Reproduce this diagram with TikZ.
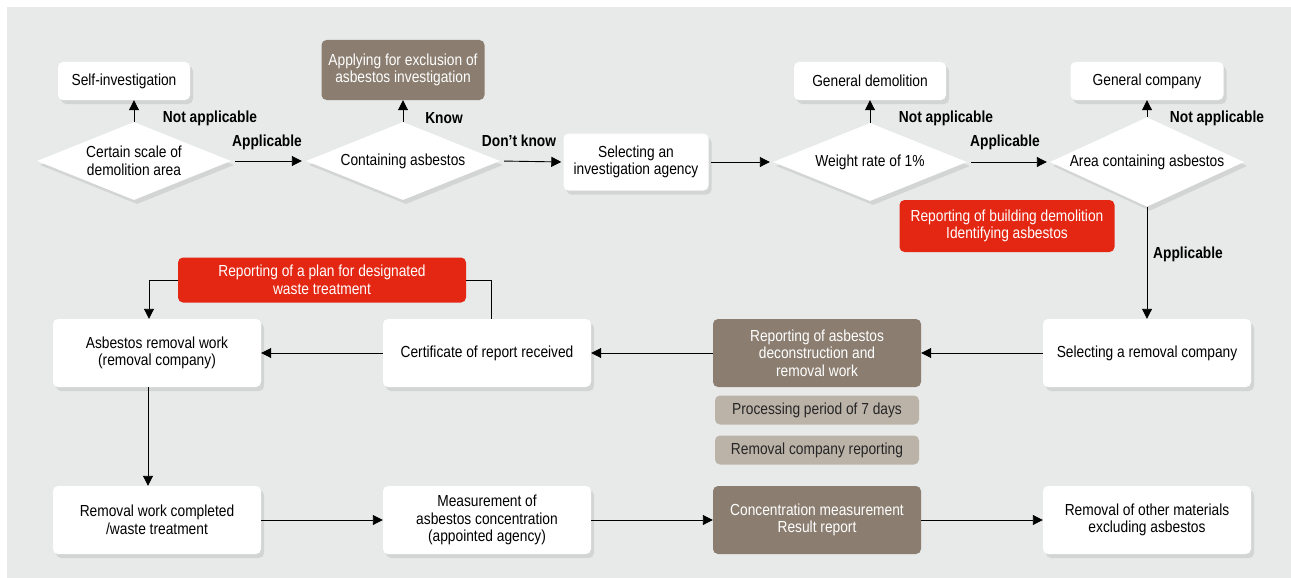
\documentclass[tikz,border=0pt]{standalone}
\usepackage{fontspec}
\setmainfont{Liberation Sans}[FakeStretch=0.86]
\usetikzlibrary{arrows.meta, shapes.geometric, shadows}
\definecolor{xbg}{HTML}{E8E9E9}
\definecolor{xbrown}{HTML}{8B7E70}
\definecolor{xtaupe}{HTML}{BBB2A8}
\definecolor{xred}{HTML}{E42713}
\tikzset{
  base/.style = {rounded corners=5pt, align=center, inner sep=2pt, font=\fontsize{16}{17.5}\selectfont},
  softshadow/.style = {drop shadow={opacity=0.2, shadow xshift=3pt, shadow yshift=-4pt}},
  whitebox/.style = {base, fill=white, softshadow},
  brownbox/.style = {base, fill=xbrown, text=white},
  taupebox/.style = {base, fill=xtaupe, text=black!85, minimum width=204pt, minimum height=29pt},
  redbox/.style = {base, fill=xred, text=white},
  wide/.style = {minimum width=208pt, minimum height=68pt},
  decision/.style = {diamond, fill=white, softshadow, minimum width=194pt, minimum height=78pt, inner xsep=-40pt, inner ysep=0pt, align=center, font=\fontsize{16}{17.5}\selectfont},
  lbl/.style = {font=\bfseries\fontsize{16}{17.5}\selectfont},
  arr/.style = {-{Triangle[length=10pt, width=10pt]}, line width=0.9pt},
}

\begin{document}
\begin{tikzpicture}[x=1pt, y=-1pt]
  \useasboundingbox (0,0) rectangle (1291,578);
  \fill[xbg] (7,7) rectangle (1291,578);

  % top row
  \node[whitebox, minimum width=132pt, minimum height=38pt] (selfinv) at (124,81) {Self-investigation};
  \node[brownbox, minimum width=163pt, minimum height=60pt] (exclusion) at (403,70) {Applying for exclusion of\\asbestos investigation};
  \node[whitebox, minimum width=152pt, minimum height=38pt] (gendemo) at (870,81) {General demolition};
  \node[whitebox, minimum width=153pt, minimum height=38pt] (gencomp) at (1147,81) {General company};

  \node[decision] (scale) at (134,161) {Certain scale of\\demolition area};
  \node[decision] (contain) at (403,161) {Containing asbestos};
  \node[whitebox, minimum width=145pt, minimum height=57pt] (agency) at (636,162) {Selecting an\\investigation agency};
  \node[decision] (weight) at (870,162) {Weight rate of 1\%};
  \node[decision] (area) at (1147,162) {Area containing asbestos};
  \node[redbox, minimum width=215pt, minimum height=52pt] (demoreport) at (1007,226) {Reporting of building demolition\\Identifying asbestos};

  % middle row
  \node[whitebox, wide] (selremoval) at (1147,353) {Selecting a removal company};
  \node[brownbox, wide] (asbreport) at (817,353) {Reporting of asbestos\\deconstruction and\\removal work};
  \node[taupebox] (period) at (817,410) {Processing period of 7 days};
  \node[taupebox] (compreport) at (817,450) {Removal company reporting};
  \node[whitebox, wide] (certificate) at (487,353) {Certificate of report received};
  \node[whitebox, wide] (removal) at (157,353) {Asbestos removal work\\(removal company)};
  \node[redbox, minimum width=288pt, minimum height=45pt] (plan) at (322,280) {Reporting of a plan for designated\\waste treatment};

  % bottom row
  \node[whitebox, wide] (completed) at (157,520) {Removal work completed\\/waste treatment};
  \node[whitebox, wide] (measure) at (487,520) {Measurement of\\asbestos concentration\\(appointed agency)};
  \node[brownbox, wide] (concresult) at (817,520) {Concentration measurement\\Result report};
  \node[whitebox, wide] (others) at (1147,520) {Removal of other materials\\excluding asbestos};

  % connectors
  \draw[arr] (scale.north) -- (scale.north |- selfinv.south);
  \draw[arr, shorten <=4pt, shorten >=4pt] (scale.east) -- (contain.west);
  \draw[arr] (contain.north) -- (exclusion.south);
  \draw[arr, shorten <=4pt, shorten >=2pt] (contain.east) -- (agency.west);
  \draw[arr, shorten <=2pt, shorten >=3pt] (agency.east) -- (weight.west);
  \draw[arr] (weight.north) -- (gendemo.south);
  \draw[arr, shorten <=4pt, shorten >=3pt] (weight.east) -- (area.west);
  \draw[arr] (area.north) -- (gencomp.south);
  \draw[arr] (area.south) -- (selremoval.north);
  \draw[arr] (selremoval.west) -- (asbreport.east);
  \draw[arr] (asbreport.west) -- (certificate.east);
  \draw[arr] (certificate.west) -- (removal.east);
  \draw[line width=0.9pt] ([xshift=4pt]certificate.north) |- (plan.east);
  \draw[arr] (plan.west) -| ([xshift=-8pt]removal.north);
  \draw[arr] ([xshift=-9pt]removal.south) -- ([xshift=-9pt]completed.north);
  \draw[arr] (completed.east) -- (measure.west);
  \draw[arr] (measure.east) -- (concresult.west);
  \draw[arr] (concresult.east) -- (others.west);

  % labels
  \node[lbl] (notapp1) at (210,118) {Not applicable};
  \node[lbl] (app1) at (267,142) {Applicable};
  \node[lbl] (know) at (444,118) {Know};
  \node[lbl] (dontknow) at (519,141) {Don't know};
  \node[lbl] (notapp2) at (946,118) {Not applicable};
  \node[lbl] (app2) at (1005,142) {Applicable};
  \node[lbl] (notapp3) at (1217,118) {Not applicable};
  \node[lbl] (app3) at (1188,254) {Applicable};
\end{tikzpicture}
\end{document}
